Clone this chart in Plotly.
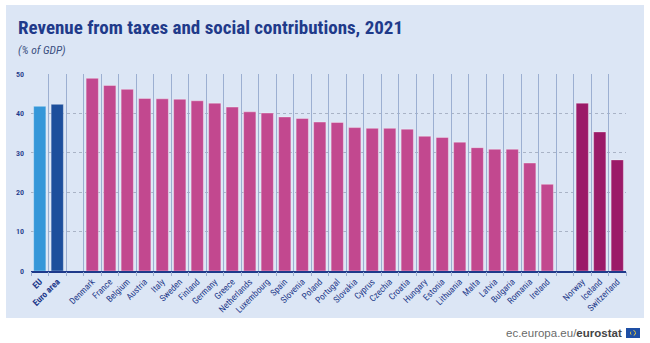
import plotly.graph_objects as go

# Aggregates, EU member states and EFTA countries (% of GDP, 2021)
agg_names = ["<b>EU</b>", "<b>Euro area</b>"]
agg_values = [41.8, 42.3]

eu_names = ["Denmark", "France", "Belgium", "Austria", "Italy", "Sweden", "Finland",
            "Germany", "Greece", "Netherlands", "Luxembourg", "Spain", "Slovenia",
            "Poland", "Portugal", "Slovakia", "Cyprus", "Czechia", "Croatia", "Hungary",
            "Estonia", "Lithuania", "Malta", "Latvia", "Bulgaria", "Romania", "Ireland"]
eu_values = [48.9, 47.1, 46.1, 43.8, 43.7, 43.6, 43.2, 42.6, 41.6, 40.4, 40.1, 39.1,
             38.7, 37.8, 37.7, 36.4, 36.2, 36.2, 36.0, 34.2, 33.9, 32.7, 31.3, 30.9,
             30.9, 27.4, 22.0]

efta_names = ["Norway", "Iceland", "Switzerland"]
efta_values = [42.6, 35.3, 28.2]

gap1, gap2 = " ", "  "
categories = agg_names + [gap1] + eu_names + [gap2] + efta_names
n_cat = len(categories)

bar_colors = ["#3597d9", "#1d4f9c"]
EU_COLOR = "#c2488f"
EFTA_COLOR = "#9b1a68"
NAVY = "#1f3a8a"
FONT = "Roboto Condensed, Noto Sans Condensed, DejaVu Sans Condensed, Roboto, sans-serif"

fig = go.Figure()
edge = dict(color="rgba(255,255,255,0.35)", width=1)
fig.add_trace(go.Bar(x=agg_names, y=agg_values, marker=dict(color=bar_colors, line=edge)))
fig.add_trace(go.Bar(x=eu_names, y=eu_values, marker=dict(color=EU_COLOR, line=edge)))
fig.add_trace(go.Bar(x=efta_names, y=efta_values, marker=dict(color=EFTA_COLOR, line=edge)))
# empty trace that carries the overlaid axis used for category separators
fig.add_trace(go.Scatter(x=[None], y=[None], xaxis="x2", yaxis="y",
                         mode="markers", hoverinfo="skip"))

W, H = 650, 343
L, R, T, B = 31, 24, 74, 72
pw, ph = W - L - R, H - T - B

def px_x(p):
    return (p - L) / pw

def px_y(p):
    return (H - B - p) / ph

shapes = [
    # light blue panel behind the chart
    dict(type="rect", xref="paper", yref="paper", layer="below",
         x0=px_x(6), x1=px_x(644), y0=px_y(318), y1=px_y(5),
         fillcolor="#dce6f5", line=dict(width=0)),
    # EU flag icon next to the source link
    dict(type="rect", xref="paper", yref="paper",
         x0=px_x(626), x1=px_x(640), y0=px_y(338), y1=px_y(328),
         fillcolor="#1e4fa5", line=dict(width=0)),
    dict(type="circle", xref="paper", yref="paper",
         x0=px_x(630.5), x1=px_x(635.5), y0=px_y(335.5), y1=px_y(330.5),
         fillcolor="rgba(0,0,0,0)", line=dict(color="#f2d23a", width=1, dash="dot")),
]

fig.update_layout(
    width=W, height=H,
    margin=dict(l=L, r=R, t=T, b=B),
    paper_bgcolor="white",
    plot_bgcolor="rgba(0,0,0,0)",
    showlegend=False,
    bargap=0.3,
    font=dict(family=FONT, color=NAVY),
    shapes=shapes,
    annotations=[
        dict(text="<b>Revenue from taxes and social contributions, 2021</b>",
             xref="paper", yref="paper", x=px_x(16), y=px_y(28),
             xanchor="left", yanchor="middle", showarrow=False,
             font=dict(size=19, color=NAVY, family=FONT)),
        dict(text="<i>(% of GDP)</i>",
             xref="paper", yref="paper", x=px_x(16), y=px_y(50),
             xanchor="left", yanchor="middle", showarrow=False,
             font=dict(size=11.5, color="#3a4f80", family=FONT)),
        dict(text="<span style='color:#6a6a6a'>ec.europa.eu/</span><b>eurostat</b>",
             xref="paper", yref="paper", x=px_x(624), y=px_y(333),
             xanchor="right", yanchor="middle", showarrow=False,
             font=dict(size=11.5, color="#444", family="Liberation Sans, Arial, sans-serif")),
    ],
    xaxis=dict(
        type="category", categoryorder="array", categoryarray=categories,
        showgrid=False, ticks="", showline=True, linecolor=NAVY, linewidth=2,
        tickangle=-45, layer="above traces",
        tickfont=dict(size=9, color=NAVY, family=FONT),
        range=[-0.5, n_cat - 0.5],
    ),
    xaxis2=dict(
        overlaying="x", side="bottom", range=[-0.5, n_cat - 0.5],
        tickmode="linear", tick0=-0.5, dtick=1,
        showgrid=True, gridcolor="#9cafd1", gridwidth=1,
        ticks="outside", ticklen=4, tickcolor="#9cafd1",
        showticklabels=False, zeroline=False, showline=False,
    ),
    yaxis=dict(
        range=[0, 50], tickvals=[0, 10, 20, 30, 40, 50],
        showgrid=True, gridcolor="#a9b3c6", griddash="dot", gridwidth=1,
        zeroline=False, showline=False,
        ticks="", ticklabelstandoff=6,
        tickfont=dict(size=8, color=NAVY, family=FONT, weight=600),
    ),
)

fig.write_html("out.html")
